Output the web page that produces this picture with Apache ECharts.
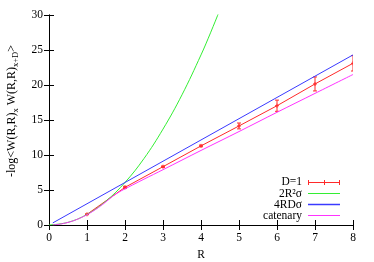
<!DOCTYPE html>
<html>
<head>
<meta charset="utf-8">
<script src="https://cdn.jsdelivr.net/npm/echarts@6/dist/echarts.min.js"></script>
<style>
html,body{margin:0;padding:0;background:#fff;}
#c{width:374px;height:262px;}
</style>
</head>
<body>
<div id="c"></div>
<script>
// ---- data ----
const xTicks = [0,1,2,3,4,5,6,7,8];
const yTicks = [0,5,10,15,20,25,30];

const d1R      = [1, 2, 3, 4, 5, 6, 7, 8];
const d1Values = [1.53, 5.38, 8.33, 11.3, 14.15, 17.04, 20.15, 23.1];
const d1Errors = [0.06, 0.15, 0.1, 0.12, 0.42, 0.8, 1.0, 1.1];

const diskR      = [0, 0.5, 1, 1.5, 2, 2.5, 3, 3.5, 4, 4.25, 4.5, 4.75];
const diskValues = [0, 0.38, 1.52, 3.42, 6.08, 9.5, 13.7, 18.6, 24.3, 27.45, 30.8, 34.3];

const tubeR      = [0.1, 8];
const tubeValues = [0.3, 24.3];

const catR      = [0.1, 0.2, 0.3, 0.4, 0.5, 0.6, 0.7, 0.8, 0.9, 1.0, 1.1, 1.2, 1.3, 1.4, 1.5, 1.6, 1.7, 1.8, 1.9, 2.0, 2.2, 2.5, 3, 4, 5, 6, 7, 8];
const catValues = [0.02, 0.06, 0.13, 0.24, 0.37, 0.53, 0.72, 0.94, 1.19, 1.47, 1.78, 2.12, 2.49, 2.89, 3.32, 3.77, 4.2, 4.56, 4.88, 5.16, 5.72, 6.55, 7.9, 10.65, 13.35, 16.1, 18.8, 21.5];

const legendNames = ['D=1', '2R²σ', '4RDσ', 'catenary'];

// ---- chart ----
const FONT = 'Liberation Serif';
const C_RED = '#ff2a2a', C_GREEN = '#33ee33', C_BLUE = '#3a3aff', C_MAG = '#ff33ff';

const zip = (a, b) => a.map((v, i) => [v, b[i]]);
const errData = d1R.map((r, i) => [r, d1Values[i], d1Errors[i]]);

const axisCommon = {
  type: 'value',
  axisLine: { show: true, lineStyle: { color: '#000', width: 1 } },
  axisTick: { show: true, inside: true, length: 5, lineStyle: { color: '#000' } },
  splitLine: { show: false },
  axisLabel: { color: '#000', fontFamily: FONT, fontSize: 11.5 }
};

const chart = echarts.init(document.getElementById('c'), null, { renderer: 'canvas' });

const option = {
  animation: false,
  backgroundColor: '#fff',
  grid: { left: 49, right: 21, top: 15, bottom: 37 },
  xAxis: [
    Object.assign({}, axisCommon, { min: xTicks[0], max: xTicks[xTicks.length-1], interval: 1, position: 'bottom',
      axisLabel: Object.assign({}, axisCommon.axisLabel, { margin: 7 }) }),
    Object.assign({}, axisCommon, { min: xTicks[0], max: xTicks[xTicks.length-1], interval: 1, position: 'top',
      axisLabel: { show: false } })
  ],
  yAxis: [
    Object.assign({}, axisCommon, { min: yTicks[0], max: yTicks[yTicks.length-1], interval: 5, position: 'left',
      axisLabel: Object.assign({}, axisCommon.axisLabel, { margin: 6 }) }),
    Object.assign({}, axisCommon, { min: yTicks[0], max: yTicks[yTicks.length-1], interval: 5, position: 'right',
      axisLabel: { show: false } })
  ],
  series: [
    { name: legendNames[0], type: 'line', data: zip(d1R, d1Values), symbol: 'none',
      lineStyle: { color: C_RED, width: 1 }, clip: true, z: 2 },
    { name: legendNames[0] + ' err', type: 'custom', data: errData, clip: true, z: 2,
      renderItem: function (params, api) {
        const r = api.value(0), v = api.value(1), e = api.value(2);
        const p = api.coord([r, v]);
        const lo = api.coord([r, v - e]);
        const hi = api.coord([r, v + e]);
        const st = { stroke: C_RED, lineWidth: 1 };
        return { type: 'group', children: [
          { type: 'line', shape: { x1: p[0], y1: lo[1], x2: p[0], y2: hi[1] }, style: st },
          { type: 'line', shape: { x1: p[0]-2, y1: lo[1], x2: p[0]+2, y2: lo[1] }, style: st },
          { type: 'line', shape: { x1: p[0]-2, y1: hi[1], x2: p[0]+2, y2: hi[1] }, style: st },
          { type: 'line', shape: { x1: p[0]-2, y1: p[1], x2: p[0]+2, y2: p[1] }, style: st },
          { type: 'line', shape: { x1: p[0], y1: p[1]-2, x2: p[0], y2: p[1]+2 }, style: st }
        ]};
      }
    },
    { name: legendNames[1], type: 'line', data: zip(diskR, diskValues), symbol: 'none', smooth: 0.4,
      lineStyle: { color: C_GREEN, width: 1 }, clip: true, z: 3 },
    { name: legendNames[2], type: 'line', data: zip(tubeR, tubeValues), symbol: 'none',
      lineStyle: { color: C_BLUE, width: 1 }, clip: true, z: 4 },
    { name: legendNames[3], type: 'line', data: zip(catR, catValues), symbol: 'none', smooth: 0.3,
      lineStyle: { color: C_MAG, width: 1 }, clip: true, z: 5 }
  ],
  graphic: [
    // y-axis title
    { type: 'text', x: 12, y: 111, rotation: Math.PI / 2,
      style: {
        text: '{a|-log<W(R,R)}{s|x}{a| W(R,R)}{s|x+D}{a|>}',
        fill: '#000', align: 'center', verticalAlign: 'middle',
        rich: {
          a: { fontFamily: FONT, fontSize: 12, lineHeight: 14, fill: '#000' },
          s: { fontFamily: FONT, fontSize: 8.5, lineHeight: 9, padding: [8, 0, 0, 0], fill: '#000' }
        }
      } },
    // x-axis title
    { type: 'text', x: 201, y: 255, style: { text: 'R', font: '11.5px ' + FONT, fill: '#000', align: 'center', verticalAlign: 'middle' } },
    // legend
    { type: 'text', x: 302, y: 182, style: { text: legendNames[0], font: '11.5px ' + FONT, fill: '#000', align: 'right', verticalAlign: 'middle' } },
    { type: 'text', x: 302, y: 193.5, style: { text: legendNames[1], font: '11.5px ' + FONT, fill: '#000', align: 'right', verticalAlign: 'middle' } },
    { type: 'text', x: 302, y: 205, style: { text: legendNames[2], font: '11.5px ' + FONT, fill: '#000', align: 'right', verticalAlign: 'middle' } },
    { type: 'text', x: 302, y: 216, style: { text: legendNames[3], font: '11.5px ' + FONT, fill: '#000', align: 'right', verticalAlign: 'middle' } },
    { type: 'line', shape: { x1: 308, y1: 182.5, x2: 340, y2: 182.5 }, style: { stroke: C_RED, lineWidth: 1 } },
    { type: 'line', shape: { x1: 308.5, y1: 180, x2: 308.5, y2: 185 }, style: { stroke: C_RED, lineWidth: 1 } },
    { type: 'line', shape: { x1: 339.5, y1: 180, x2: 339.5, y2: 185 }, style: { stroke: C_RED, lineWidth: 1 } },
    { type: 'line', shape: { x1: 324.5, y1: 180, x2: 324.5, y2: 185 }, style: { stroke: C_RED, lineWidth: 1 } },
    { type: 'line', shape: { x1: 308, y1: 193.5, x2: 340, y2: 193.5 }, style: { stroke: C_GREEN, lineWidth: 1 } },
    { type: 'line', shape: { x1: 308, y1: 204.5, x2: 340, y2: 204.5 }, style: { stroke: C_BLUE, lineWidth: 1.5 } },
    { type: 'line', shape: { x1: 308, y1: 215.5, x2: 340, y2: 215.5 }, style: { stroke: C_MAG, lineWidth: 1 } }
  ]
};
chart.setOption(option);
</script>
</body>
</html>
